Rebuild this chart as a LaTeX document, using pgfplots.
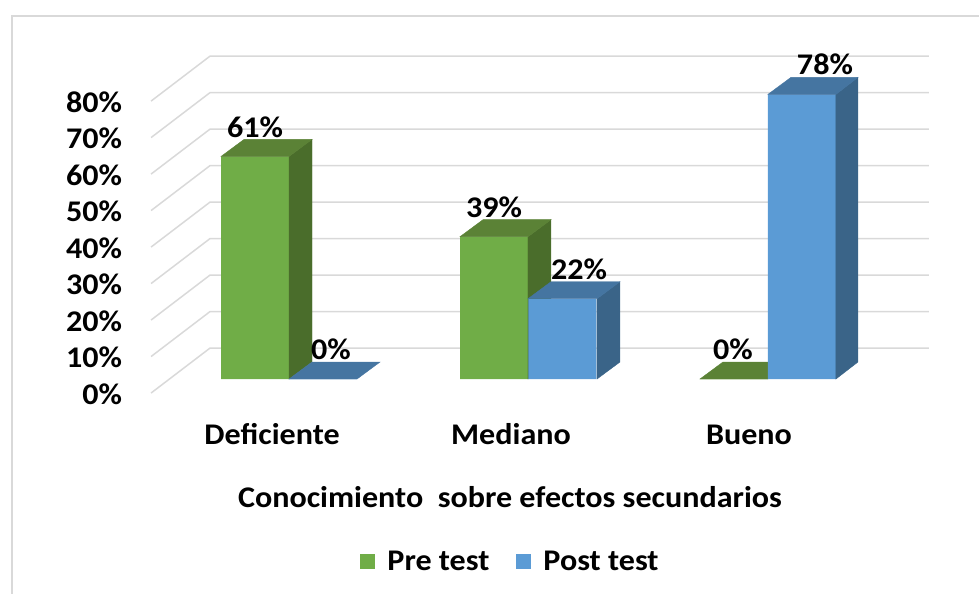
\documentclass[border=0pt]{standalone}
\usepackage{pgfplots}
\usepackage{fontspec}
\setmainfont{Carlito}[FakeStretch=1.07]
\pgfplotsset{compat=1.18}
\definecolor{gridc}{HTML}{D9D9D9}
\definecolor{gfront}{HTML}{70AD47}
\definecolor{gtop}{HTML}{5B8236}
\definecolor{gside}{HTML}{4A6D2B}
\definecolor{bfront}{HTML}{5B9BD5}
\definecolor{btop}{HTML}{4575A1}
\definecolor{bside}{HTML}{3A6488}
\newcommand{\lab}{\bfseries\fontsize{30}{30}\selectfont}
\begin{document}
\begin{tikzpicture}
\begin{axis}[
  scale only axis, width=979pt, height=594pt,
  xmin=0, xmax=979, ymin=-58.904, ymax=103.836,
  axis line style={draw=none}, major tick length=0pt,
  xtick={272,511,749}, xticklabels={Deficiente,Mediano,Bueno},
  ytick={-4.1,5.9,15.9,25.9,35.9,45.9,55.9,65.9,75.9},
  yticklabels={0\%,10\%,20\%,30\%,40\%,50\%,60\%,70\%,80\%},
  y tick label style={font=\lab, anchor=east, xshift=125.5pt},
  x tick label style={font=\lab, anchor=center, text height=20pt, text depth=0pt, yshift=160pt},
  legend columns=2,
  legend style={at={(axis cs:510.5,-50.0)}, anchor=center, draw=none, fill=none,
    font=\lab,
    /tikz/every odd column/.append style={column sep=10pt},
    /tikz/every even column/.append style={column sep=25pt}},
  legend image code/.code={\fill[#1] (0pt,-7.5pt) rectangle (15pt,7.5pt);},
]
% frame and walls
\addplot[gridc, line width=2pt, forget plot] coordinates {(12,-58.9)(12,99.5)(979,99.5)};
\foreach \k in {0,10,...,80}{
  \pgfmathsetmacro{\a}{\k-3.84}
  \pgfmathsetmacro{\b}{\k+8.49}
  \edef\tmp{\noexpand\addplot[gridc, line width=1.5pt, forget plot] coordinates {(151,\a)(210,\b)(929,\b)};}
  \tmp
}
% Pre test
\addplot[ybar, bar width=68pt, bar shift=0pt, fill=gfront, draw=none]
  coordinates {(255,61)(494,39)(734,0)};
\addlegendentry{Pre test}
\addplot[fill=gside, draw=gside, line width=.4pt, forget plot] coordinates {(289,0)(312,4.66)(312,65.66)(289,61)} -- cycle;
\addplot[fill=gtop, draw=gtop, line width=.4pt, forget plot] coordinates {(221,61)(244,65.66)(312,65.66)(289,61)} -- cycle;
\addplot[fill=gside, draw=gside, line width=.4pt, forget plot] coordinates {(528,0)(551,4.66)(551,43.66)(528,39)} -- cycle;
\addplot[fill=gtop, draw=gtop, line width=.4pt, forget plot] coordinates {(460,39)(483,43.66)(551,43.66)(528,39)} -- cycle;
\addplot[fill=gtop, draw=gtop, line width=.4pt, forget plot] coordinates {(700,0)(723,4.66)(791,4.66)(768,0)} -- cycle;
% Post test
\addplot[fill=btop, draw=btop, line width=.4pt, forget plot] coordinates {(289,0)(312,4.66)(380,4.66)(357,0)} -- cycle;
\addplot[ybar, bar width=68pt, bar shift=0pt, fill=bfront, draw=none]
  coordinates {(323,0)(562.5,22)(802,78)};
\addlegendentry{Post test}
\addplot[fill=bside, draw=bside, line width=.4pt, forget plot] coordinates {(597,0)(620,4.66)(620,26.66)(597,22)} -- cycle;
\addplot[fill=btop, draw=btop, line width=.4pt, forget plot] coordinates {(528,22)(551,26.66)(620,26.66)(597,22)} -- cycle;
\addplot[fill=bside, draw=bside, line width=.4pt, forget plot] coordinates {(836,0)(858,4.66)(858,82.66)(836,78)} -- cycle;
\addplot[fill=btop, draw=btop, line width=.4pt, forget plot] coordinates {(768,78)(791,82.66)(858,82.66)(836,78)} -- cycle;
% data labels
\node[font=\lab] at (axis cs:255,69.0) {61\%};
\node[font=\lab] at (axis cs:331,8.2) {0\%};
\node[font=\lab] at (axis cs:494,47.1) {39\%};
\node[font=\lab] at (axis cs:579,30.1) {22\%};
\node[font=\lab] at (axis cs:733,8.2) {0\%};
\node[font=\lab] at (axis cs:825,86.3) {78\%};
\node[font=\lab] at (axis cs:510,-32.4) {Conocimiento\ \ sobre efectos secundarios};
\end{axis}
\end{tikzpicture}
\end{document}
